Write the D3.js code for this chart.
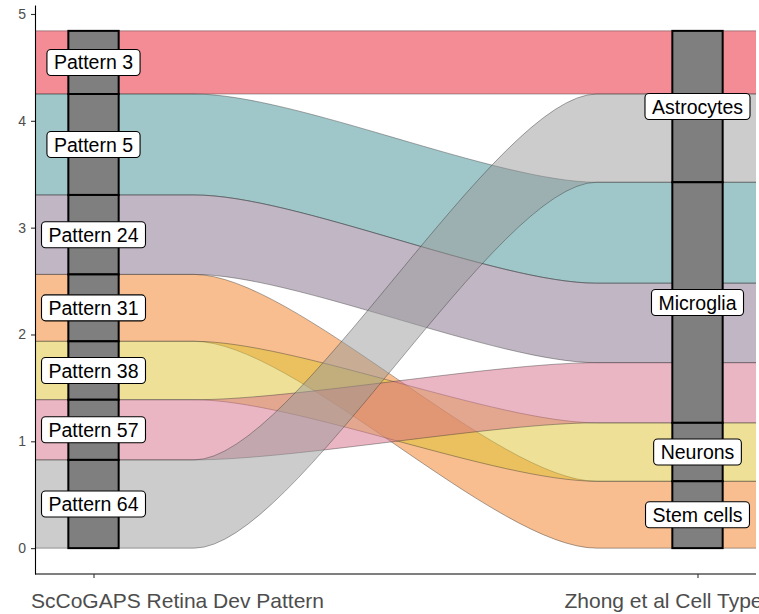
<!DOCTYPE html>
<html>
<head>
<meta charset="utf-8">
<script src="https://cdn.jsdelivr.net/npm/d3@7"></script>
<style>
  body { margin: 0; background: #fff; }
  svg { display: block; font-family: "Liberation Sans", Arial, Helvetica, sans-serif; }
</style>
</head>
<body>
<svg id="chart" width="759" height="614"></svg>
<script>
//## Data

const patterns = ["Pattern 3", "Pattern 5", "Pattern 24", "Pattern 31", "Pattern 38", "Pattern 57", "Pattern 64"];
const patternCellType = ["Astrocytes", "Microglia", "Microglia", "Stem cells", "Neurons", "Microglia", "Astrocytes"];
const patternWeight = [0.591, 0.945, 0.744, 0.626, 0.547, 0.563, 0.826];
const patternColor = ["#e7192a", "#3f8d91", "#836d89", "#f17d1f", "#ddc12d", "#d76d87", "#999999"];
const cellTypes = ["Astrocytes", "Microglia", "Neurons", "Stem cells"];
const axisNames = ["ScCoGAPS Retina Dev Pattern", "Zhong et al Cell Type"];
const yTicks = [0, 1, 2, 3, 4, 5];

//## Layout

const width = 759, height = 614;
const panel = { left: 35, right: 756, top: 5, bottom: 574 };
const strataWidth = 1 / 12;   // stratum width in x units
const lodeWidth = 1 / 3;      // alluvium width in x units
const knot = 0.25;

const total = d3.sum(patternWeight);

const x = d3.scaleLinear().domain([1, 2]).range([93.5, 697.5]);
const y = d3.scaleLinear()
  .domain([-0.05 * total, 1.05 * total])
  .range([panel.bottom, panel.top]);

// stack lodes on the left axis (top to bottom in given order)
let acc = total;
const left = patterns.map((p, i) => {
  const top = acc;
  acc -= patternWeight[i];
  return { top, bottom: acc };
});

// stack on the right axis: cell type order, then pattern order inside
acc = total;
const right = new Array(patterns.length);
const rightStrata = cellTypes.map((c) => {
  const top = acc;
  patterns.forEach((p, i) => {
    if (patternCellType[i] !== c) return;
    right[i] = { top: acc, bottom: acc - patternWeight[i] };
    acc -= patternWeight[i];
  });
  return { name: c, top, bottom: acc };
});

const leftStrata = patterns.map((p, i) => ({ name: p, top: left[i].top, bottom: left[i].bottom }));

const svg = d3.select("#chart");

svg.append("defs").append("clipPath").attr("id", "panel-clip")
  .append("rect")
  .attr("x", panel.left).attr("y", panel.top)
  .attr("width", panel.right - panel.left)
  .attr("height", panel.bottom - panel.top);

//## Flows

function flowPath(i) {
  const x0 = x(1 - lodeWidth / 2), x1 = x(1 + lodeWidth / 2);
  const x2 = x(2 - lodeWidth / 2), x3 = x(2 + lodeWidth / 2);
  const dx = x2 - x1;
  const ca = x1 + knot * dx, cb = x2 - knot * dx;
  const lt = y(left[i].top), lb = y(left[i].bottom);
  const rt = y(right[i].top), rb = y(right[i].bottom);
  const p = d3.path();
  p.moveTo(x0, lt);
  p.lineTo(x1, lt);
  p.bezierCurveTo(ca, lt, cb, rt, x2, rt);
  p.lineTo(x3, rt);
  p.lineTo(x3, rb);
  p.lineTo(x2, rb);
  p.bezierCurveTo(cb, rb, ca, lb, x1, lb);
  p.lineTo(x0, lb);
  p.closePath();
  return p.toString();
}

svg.append("g")
  .attr("clip-path", "url(#panel-clip)")
  .selectAll("path")
  .data(patterns)
  .join("path")
  .attr("d", (d, i) => flowPath(i))
  .attr("fill", (d, i) => patternColor[i])
  .attr("fill-opacity", 0.5)
  .attr("stroke", "#333")
  .attr("stroke-opacity", 0.6)
  .attr("stroke-width", 0.7);

//## Strata

function drawStrata(strata, pos) {
  const g = svg.append("g");
  g.selectAll("rect")
    .data(strata)
    .join("rect")
    .attr("x", x(pos - strataWidth / 2))
    .attr("width", x(pos + strataWidth / 2) - x(pos - strataWidth / 2))
    .attr("y", (d) => y(d.top))
    .attr("height", (d) => y(d.bottom) - y(d.top))
    .attr("fill", "#7f7f7f")
    .attr("stroke", "#000")
    .attr("stroke-width", 2);

  const labels = g.selectAll("g.label")
    .data(strata)
    .join("g")
    .attr("class", "label")
    .attr("transform", (d) => `translate(${x(pos)},${y((d.top + d.bottom) / 2)})`);

  labels.append("rect");
  labels.append("text")
    .attr("text-anchor", "middle")
    .attr("dy", "0.36em")
    .style("font-size", "19.5px")
    .attr("fill", "#000")
    .text((d) => d.name);

  labels.each(function () {
    const el = d3.select(this);
    const w = el.select("text").node().getComputedTextLength();
    const padX = 7, h = 26;
    el.select("rect")
      .attr("x", -w / 2 - padX)
      .attr("y", -h / 2)
      .attr("width", w + 2 * padX)
      .attr("height", h)
      .attr("rx", 4)
      .attr("fill", "#fff")
      .attr("stroke", "#000")
      .attr("stroke-width", 1.1);
  });
}

drawStrata(leftStrata, 1);
drawStrata(rightStrata, 2);

//## Axes

const yAxis = svg.append("g")
  .attr("transform", `translate(${panel.left},0)`)
  .call(d3.axisLeft(y).tickValues(yTicks).tickFormat(d3.format("d"))
    .tickSize(4).tickSizeOuter(0).tickPadding(5));

const xAxisScale = d3.scaleLinear().domain([1, 2]).range([x(1), x(2)]);
const xAxis = svg.append("g")
  .attr("transform", `translate(0,${panel.bottom})`)
  .call(d3.axisBottom(xAxisScale).tickValues([1, 2]).tickSize(4).tickFormat(""));

xAxis.select(".domain").attr("d", `M${panel.left},0H${panel.right}`);

[yAxis, xAxis].forEach((a) => {
  a.select(".domain").attr("stroke", "#000").attr("stroke-width", 1.1);
  a.selectAll(".tick line").attr("stroke", "#333").attr("stroke-width", 1.1);
});

yAxis.selectAll(".tick text")
  .style("font-size", "14px")
  .style("font-family", "inherit")
  .attr("fill", "#4d4d4d");

// category names under the ticks (as placed in the original)
const nameOffset = [84, -34];
svg.append("g")
  .selectAll("text")
  .data(axisNames)
  .join("text")
  .attr("x", (d, i) => x(i + 1) + nameOffset[i])
  .attr("y", 608)
  .attr("text-anchor", "middle")
  .style("font-size", "21px")
  .attr("fill", "#4d4d4d")
  .text((d) => d);
</script>
</body>
</html>
